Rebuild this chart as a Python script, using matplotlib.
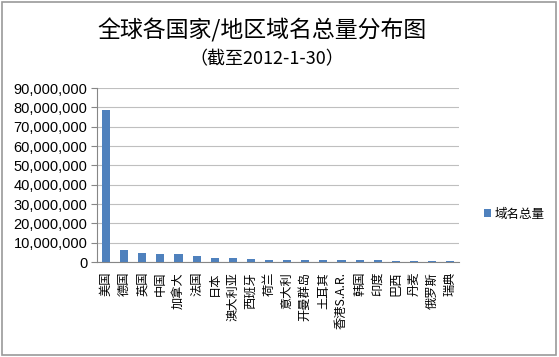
import matplotlib.pyplot as plt
from matplotlib.patches import Rectangle
from matplotlib.ticker import FuncFormatter

plt.rcParams['font.family'] = ['Noto Sans CJK SC', 'DejaVu Sans']

# data
countries = ['美国', '德国', '英国', '中国', '加拿大', '法国', '日本', '澳大利亚',
             '西班牙', '荷兰', '意大利', '开曼群岛', '土耳其', '香港S.A.R.',
             '韩国', '印度', '巴西', '丹麦', '俄罗斯', '瑞典']
domains = [78600000, 6400000, 4650000, 4300000, 4000000, 3300000, 2300000, 2250000,
           1600000, 1250000, 1200000, 1100000, 1000000, 1000000,
           950000, 800000, 650000, 400000, 350000, 300000]
yticks = list(range(0, 90000001, 10000000))

fig = plt.figure(figsize=(5.59, 3.57), dpi=100)
ax = fig.add_axes([0.1735, 0.266, 0.648, 0.487])

x = range(len(countries))
ax.bar(x, domains, width=0.45, color='#4F81BD', label='域名总量', zorder=3)

ax.set_xlim(-0.5, len(countries) - 0.5)
ax.set_ylim(0, 90000000)
ax.set_yticks(yticks)
ax.yaxis.set_major_formatter(FuncFormatter(lambda v, p: f'{int(v):,}'))
ax.grid(axis='y', color='#BFBFBF', linewidth=0.8, zorder=0)

ax.set_xticks(list(x))
ax.set_xticklabels(countries, rotation=90, fontsize=8.8, va='top', ha='center')
ax.tick_params(axis='x', length=0, pad=7)
ax.tick_params(axis='y', length=4, color='#868686', labelsize=10.5, pad=3)
for lbl in ax.get_yticklabels():
    lbl.set_fontfamily('Liberation Sans')

for s in ['top', 'right']:
    ax.spines[s].set_visible(False)
ax.spines['left'].set_color('#868686')
ax.spines['bottom'].set_color('#868686')

fig.legend(loc='center left', bbox_to_anchor=(0.845, 0.40), frameon=False,
           fontsize=9, handlelength=0.6, handleheight=0.6, handletextpad=0.3)

fig.text(0.469, 0.915, '全球各国家/地区域名总量分布图', ha='center', va='center',
         fontsize=16.5, fontweight='light')
fig.text(0.478, 0.835, '（截至2012-1-30）', ha='center', va='center', fontsize=13,
         fontweight='light')

fig.patches.append(Rectangle((0.004, 0.006), 0.99, 0.988, transform=fig.transFigure,
                             fill=False, edgecolor='#9A9A9A', linewidth=1.2))

fig.savefig('out.png', dpi=100)
